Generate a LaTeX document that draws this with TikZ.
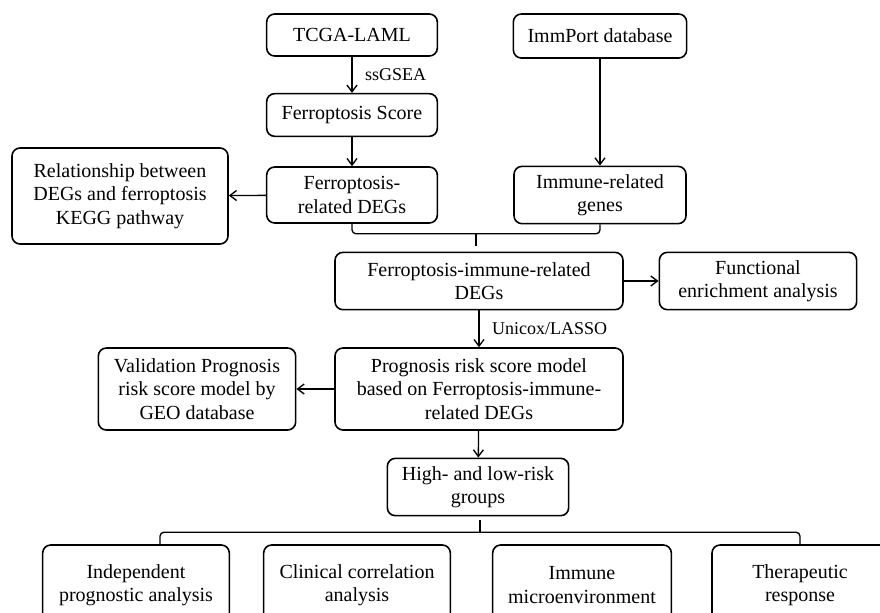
\documentclass[tikz,border=0pt]{standalone}
\usepackage{fontspec}
\setmainfont{Liberation Serif}
\usetikzlibrary{arrows.meta,calc}

\begin{document}
\begin{tikzpicture}[x=0.75pt,y=-0.75pt,
box/.style={draw,line width=1.2pt,rounded corners=6pt,align=center,inner sep=2pt,font=\fontsize{15}{17.5}\selectfont},
lab/.style={font=\fontsize{13.5}{16}\selectfont},
brc/.style={line width=1pt,rounded corners=3pt}]
\useasboundingbox (0,0) rectangle (880,612);
% top rows
\node[box,minimum width=128pt,minimum height=31.5pt] (TCGA) at (352,35) {TCGA-LAML};
\node[box,minimum width=130pt,minimum height=33pt] (IMM) at (600,36) {ImmPort database};
\node[box,minimum width=128pt,minimum height=32pt] (FS) at (352,115) {Ferroptosis Score};
\node[box,minimum width=128pt,minimum height=42pt] (FD) at (352,195) {Ferroptosis-\\related DEGs};
\node[box,minimum width=129pt,minimum height=43pt] (IG) at (600,195) {Immune-related\\genes};
\node[box,minimum width=162pt,minimum height=72pt] (REL) at (120,196) {Relationship between\\DEGs and ferroptosis\\KEGG pathway};
% middle
\node[box,minimum width=216pt,minimum height=43pt] (FID) at (479,281) {Ferroptosis-immune-related\\DEGs};
\node[box,minimum width=148pt,minimum height=43pt] (FUN) at (758,281) {Functional\\enrichment analysis};
\node[box,minimum width=216pt,minimum height=61.5pt] (MOD) at (479,389) {Prognosis risk score model\\based on Ferroptosis-immune-\\related DEGs};
\node[box,minimum width=148pt,minimum height=61.5pt] (VAL) at (197,389) {Validation Prognosis\\risk score model by\\GEO database};
\node[box,minimum width=136pt,minimum height=43pt] (HL) at (478,487) {High- and low-risk\\groups};
% bottom row
\node[box,minimum width=140pt,minimum height=60pt] (IND) at (136,585) {Independent\\prognostic analysis};
\node[box,minimum width=140pt,minimum height=60pt] (CLI) at (357,585) {Clinical correlation\\analysis};
\node[box,minimum width=134pt,minimum height=60pt] (IMV) at (582,585) {Immune\\microenvironment};
\node[box,minimum width=132pt,minimum height=60pt] (THE) at (800,585) {Therapeutic\\response};
\path[->,>={Straight Barb[length=5pt,width=7.5pt]},line width=1pt]
(TCGA) edge node[lab,right,xshift=6pt]{ssGSEA} (FS)
(FS) edge (FD)
(IMM) edge (IG)
(FD) edge (REL)
(FID) edge (FUN)
(FID) edge node[lab,right,xshift=6pt]{Unicox/LASSO} (MOD)
(MOD) edge (VAL)
(MOD) edge (HL);
% brackets
\draw[brc] (FD.south) -- ++(0,10) -| (IG.south);
\draw[line width=1pt] ($(FD.south)!0.5!(IG.south)+(0,10)$) -- ++(0,12);
\draw[brc] ([xshift=18pt]IND.north) -- ++(0,-12) -| (THE.north);
\draw[line width=1pt] ($([xshift=18pt]IND.north)!0.5!(THE.north)+(0,-12)$) -- ++(0,-12);
\end{tikzpicture}
\end{document}
